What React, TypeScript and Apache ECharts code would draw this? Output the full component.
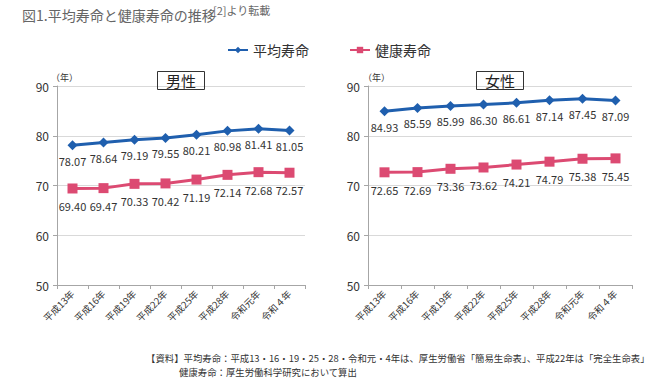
import React, { useEffect, useRef } from "react";
import * as echarts from "echarts";

const categories = ["平成13年", "平成16年", "平成19年", "平成22年", "平成25年", "平成28年", "令和元年", "令和４年"];
const maleAvg = [78.07, 78.64, 79.19, 79.55, 80.21, 80.98, 81.41, 81.05];
const maleHealthy = [69.4, 69.47, 70.33, 70.42, 71.19, 72.14, 72.68, 72.57];
const femaleAvg = [84.93, 85.59, 85.99, 86.3, 86.61, 87.14, 87.45, 87.09];
const femaleHealthy = [72.65, 72.69, 73.36, 73.62, 74.21, 74.79, 75.38, 75.45];
const yTicks = { min: 50, max: 90, interval: 10 };

const FONT = "'Noto Sans CJK JP', 'Noto Sans', sans-serif";
const BLUE = "#1f5fae";
const PINK = "#dc4a72";

export default function App() {
  const ref = useRef<HTMLDivElement>(null);
  useEffect(() => {
    const chart = echarts.init(ref.current!, null, { renderer: "svg" });
    const xAxisBase = (gridIndex: number) => ({
      type: "category" as const,
      gridIndex,
      data: categories,
      boundaryGap: true,
      axisLine: { lineStyle: { color: "#a6a6a6" } },
      axisTick: { show: true, length: 4, lineStyle: { color: "#a6a6a6" } },
      axisLabel: { rotate: 45, fontSize: 9.5, color: "#333", fontFamily: FONT, margin: 7, interval: 0 },
    });
    const yAxisBase = (gridIndex: number) => ({
      type: "value" as const,
      gridIndex,
      min: yTicks.min,
      max: yTicks.max,
      interval: yTicks.interval,
      axisLine: { show: true, lineStyle: { color: "#a6a6a6" } },
      axisTick: { show: true, length: 4, lineStyle: { color: "#a6a6a6" } },
      axisLabel: { fontSize: 12, color: "#333", fontFamily: FONT, margin: 8 },
      splitLine: { lineStyle: { color: "#d9d9d9" } },
    });
    const label = { show: true, position: "bottom" as const, distance: 5, fontSize: 11, color: "#333", fontFamily: FONT, formatter: (p: any) => p.value.toFixed(2) };
    const avgSeries = (data: number[], idx: number) => ({
      name: "平均寿命", type: "line" as const, xAxisIndex: idx, yAxisIndex: idx, data,
      symbol: "diamond", symbolSize: 10, lineStyle: { color: BLUE, width: 3 }, itemStyle: { color: BLUE },
      label,
    });
    const healthySeries = (data: number[], idx: number) => ({
      name: "健康寿命", type: "line" as const, xAxisIndex: idx, yAxisIndex: idx, data,
      symbol: "rect", symbolSize: 10, lineStyle: { color: PINK, width: 3 }, itemStyle: { color: PINK },
      label: { ...label, distance: 7 },
    });
    const boxTitle = (text: string, left: number) => ({
      text, left, top: 71,
      borderColor: "#333", borderWidth: 1, padding: [2, 9],
      textStyle: { fontSize: 15, fontWeight: "normal" as const, color: "#222", fontFamily: FONT },
    });
    chart.setOption({
      animation: false,
      backgroundColor: "#fff",
      title: [boxTitle("男性", 157), boxTitle("女性", 476)],
      legend: {
        top: 38, left: 222, itemGap: 40, itemWidth: 20, itemHeight: 8,
        textStyle: { fontSize: 14, color: "#333", fontFamily: FONT },
        data: ["平均寿命", "健康寿命"],
      },
      grid: [
        { left: 57, top: 86, width: 248, height: 199 },
        { left: 368, top: 86, width: 264, height: 199 },
      ],
      xAxis: [xAxisBase(0), xAxisBase(1)],
      yAxis: [yAxisBase(0), yAxisBase(1)],
      series: [
        avgSeries(maleAvg, 0), healthySeries(maleHealthy, 0),
        avgSeries(femaleAvg, 1), healthySeries(femaleHealthy, 1),
      ],
      graphic: [
        { type: "text", left: 22, top: 8, style: { text: "図1.平均寿命と健康寿命の推移", fontSize: 14, fill: "#666", fontFamily: FONT } },
        { type: "text", left: 213, top: 4, style: { text: "[2]より転載", fontSize: 11, fill: "#666", fontFamily: FONT } },
        { type: "text", left: 51, top: 73, style: { text: "（年）", fontSize: 9, fill: "#333", fontFamily: FONT } },
        { type: "text", left: 363, top: 73, style: { text: "（年）", fontSize: 9, fill: "#333", fontFamily: FONT } },
        { type: "text", left: 146, top: 353, style: { text: "【資料】平均寿命：平成13・16・19・25・28・令和元・4年は、厚生労働省「簡易生命表」、平成22年は「完全生命表」", fontSize: 9.4, fill: "#333", fontFamily: FONT } },
        { type: "text", left: 179, top: 367, style: { text: "健康寿命：厚生労働科学研究において算出", fontSize: 9.4, fill: "#333", fontFamily: FONT } },
      ],
    });
    return () => chart.dispose();
  }, []);
  return <div ref={ref} style={{ position: "absolute", left: 0, top: 0, width: 667, height: 388 }} />;
}
